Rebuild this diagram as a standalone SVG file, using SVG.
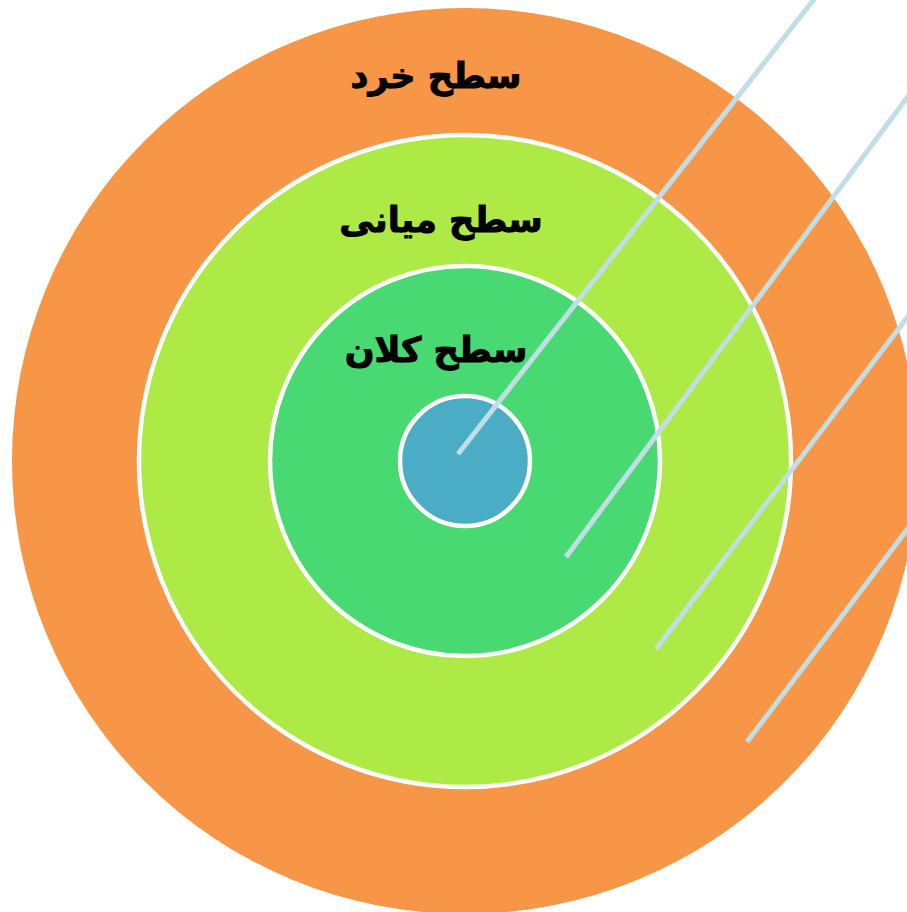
<svg xmlns="http://www.w3.org/2000/svg" width="907" height="912" viewBox="0 0 907 912">
<style>
.ring{stroke:#FFFFFF;stroke-width:4.5}
.lbl{font-family:"DejaVu Sans",sans-serif;font-weight:bold;font-size:35px;fill:#000000;stroke:#000000;stroke-width:1;text-anchor:middle}
.ln{stroke:#C1DDE6;stroke-width:5;fill:none}
</style>
<rect width="907" height="912" fill="#FFFFFF"/>
<g id="outer"><circle cx="465" cy="461" r="453" fill="#F79646"/></g>
<g id="middle"><circle class="ring" cx="465" cy="461" r="326" fill="#ADEA46"/></g>
<g id="large"><circle class="ring" cx="465" cy="461" r="195" fill="#49D973"/></g>
<g id="core"><circle class="ring" cx="465" cy="461" r="65" fill="#4BACC6"/></g>
<g id="connectors">
<line class="ln" x1="458" y1="454" x2="815" y2="-2"/>
<line class="ln" x1="566" y1="557" x2="909" y2="95"/>
<line class="ln" x1="656" y1="649" x2="909" y2="315"/>
<line class="ln" x1="747" y1="742" x2="909" y2="527"/>
</g>
<g id="labels">
<text class="lbl" x="436" y="88" direction="rtl">سطح خرد</text>
<text class="lbl" x="441" y="232" direction="rtl">سطح میانی</text>
<text class="lbl" x="436" y="362" direction="rtl">سطح کلان</text>
</g>
</svg>
